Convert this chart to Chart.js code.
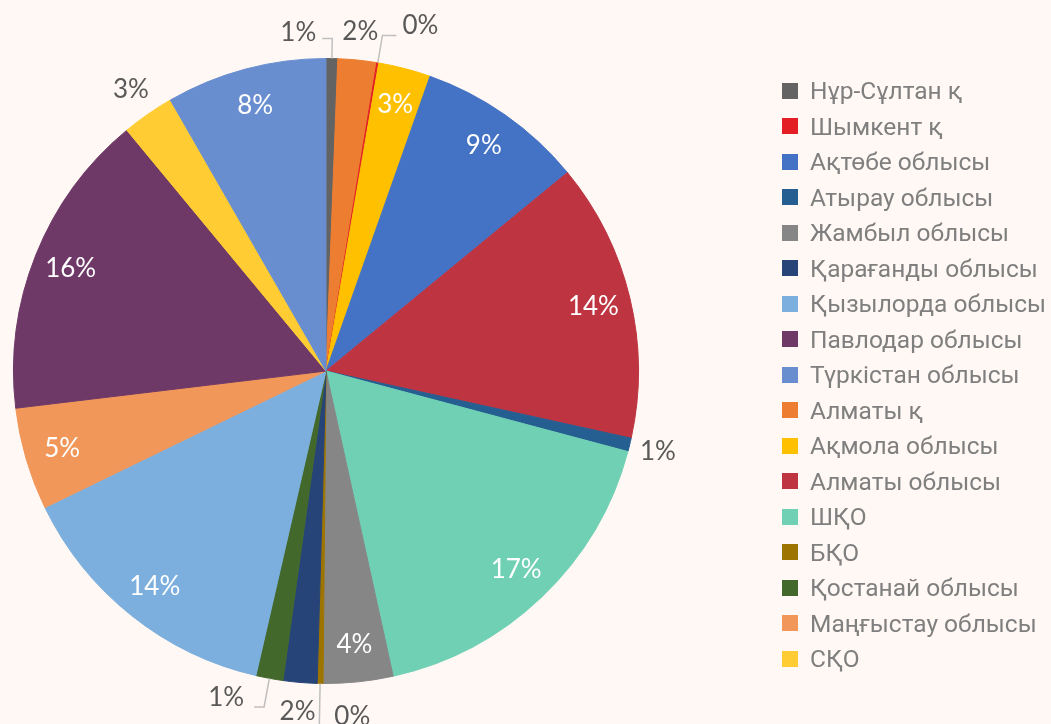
<!DOCTYPE html>
<html>
<head>
<meta charset="utf-8">
<script src="https://cdn.jsdelivr.net/npm/chart.js@4.4.1/dist/chart.umd.min.js"></script>
<style>
  body { margin: 0; background: #FFF8F4; }
  #wrap { position: relative; width: 1051px; height: 724px; overflow: hidden; }
  #legend { position: absolute; left: 782px; top: 73px; font-family: Roboto, sans-serif; font-size: 24.5px; color: #7f7f7f; }
  .item { display: flex; align-items: center; height: 35.5px; white-space: nowrap; }
  .box { width: 16px; height: 16px; margin-right: 12px; flex: none; }
</style>
</head>
<body>
<div id="wrap">
  <canvas id="pieChart" width="1051" height="724"></canvas>
  <div id="legend"></div>
</div>
<script>
// Slices in drawing order (clockwise from the top)
const regions = [
  "Нұр-Сұлтан қ", "Алматы қ", "Шымкент қ", "Ақмола облысы", "Ақтөбе облысы",
  "Алматы облысы", "Атырау облысы", "ШҚО", "Жамбыл облысы", "БҚО",
  "Қарағанды облысы", "Қостанай облысы", "Қызылорда облысы", "Маңғыстау облысы",
  "Павлодар облысы", "СҚО", "Түркістан облысы"
];
const shares = [0.6, 2.0, 0.1, 2.7, 8.65, 14.4, 0.7, 17.4, 3.6, 0.3, 1.75, 1.4, 14.2, 5.3, 15.9, 2.7, 8.3];
const colors = [
  "#636363", "#ED7D31", "#E31E24", "#FFC000", "#4472C4",
  "#BE3441", "#255E91", "#70D0B4", "#868686", "#9E7400",
  "#264478", "#43682B", "#7CAFDD", "#F1975A",
  "#6E3966", "#FFCD33", "#698ED0"
];

// Legend order as shown on the right
const legendOrder = [
  "Нұр-Сұлтан қ", "Шымкент қ", "Ақтөбе облысы", "Атырау облысы", "Жамбыл облысы",
  "Қарағанды облысы", "Қызылорда облысы", "Павлодар облысы", "Түркістан облысы",
  "Алматы қ", "Ақмола облысы", "Алматы облысы", "ШҚО", "БҚО",
  "Қостанай облысы", "Маңғыстау облысы", "СҚО"
];

// Label placement: k = distance as fraction of radius, leader = elbow line
const labelPlace = {
  0: { k: 1.064, leader: -10, tx: -34, ty: -6 },
  1: { k: 1.093 },
  2: { k: 1.089, leader: 14, tx: 38, ty: -10 },
  6: { k: 1.093 },
  9: { k: 1.134, leader: 10, tx: 33, ty: -9 },
  10: { k: 1.095 },
  11: { k: 1.093, leader: -10, tx: -38, ty: -9 },
  15: { k: 1.095 }
};

const total = shares.reduce((a, b) => a + b, 0);

// Draw percent labels on / around the slices
const pctLabels = {
  id: "pctLabels",
  afterDatasetsDraw(chart) {
    const c = chart.ctx;
    const meta = chart.getDatasetMeta(0);
    c.save();
    c.font = "26px Lato, sans-serif";
    c.textAlign = "center";
    c.textBaseline = "middle";
    meta.data.forEach((arc, i) => {
      const p = arc.getProps(["x", "y", "startAngle", "endAngle", "outerRadius"]);
      const mid = (p.startAngle + p.endAngle) / 2;
      const txt = Math.round(shares[i] / total * 100) + "%";
      const pl = labelPlace[i];
      if (!pl) {
        const d = p.outerRadius * 0.88;
        c.fillStyle = "#ffffff";
        c.fillText(txt, p.x + Math.cos(mid) * d, p.y + Math.sin(mid) * d);
        return;
      }
      const d = p.outerRadius * pl.k;
      let lx = p.x + Math.cos(mid) * d;
      let ly = p.y + Math.sin(mid) * d;
      if (pl.leader) {
        c.strokeStyle = "#BFBFBF";
        c.lineWidth = 1.5;
        c.beginPath();
        c.moveTo(p.x + Math.cos(mid) * p.outerRadius, p.y + Math.sin(mid) * p.outerRadius);
        c.lineTo(lx, ly);
        c.lineTo(lx + pl.leader, ly);
        c.stroke();
        lx += pl.tx;
        ly += pl.ty;
      }
      c.fillStyle = "#595959";
      c.fillText(txt, lx, ly);
    });
    c.restore();
  }
};

const ctx = document.getElementById("pieChart").getContext("2d");
const pieChart = new Chart(ctx, {
  type: "pie",
  data: {
    labels: regions,
    datasets: [{
      data: shares,
      backgroundColor: colors,
      borderColor: colors,
      borderWidth: 1
    }]
  },
  options: {
    responsive: false,
    animation: false,
    layout: { padding: { left: 13, top: 58, bottom: 40, right: 412 } },
    plugins: {
      legend: { display: false },
      tooltip: { enabled: false }
    }
  },
  plugins: [pctLabels]
});

// HTML legend
const legendEl = document.getElementById("legend");
legendOrder.forEach(name => {
  const idx = regions.indexOf(name);
  const row = document.createElement("div");
  row.className = "item";
  row.innerHTML = `<span class="box" style="background:${colors[idx]}"></span><span>${name}</span>`;
  legendEl.appendChild(row);
});
</script>
</body>
</html>
